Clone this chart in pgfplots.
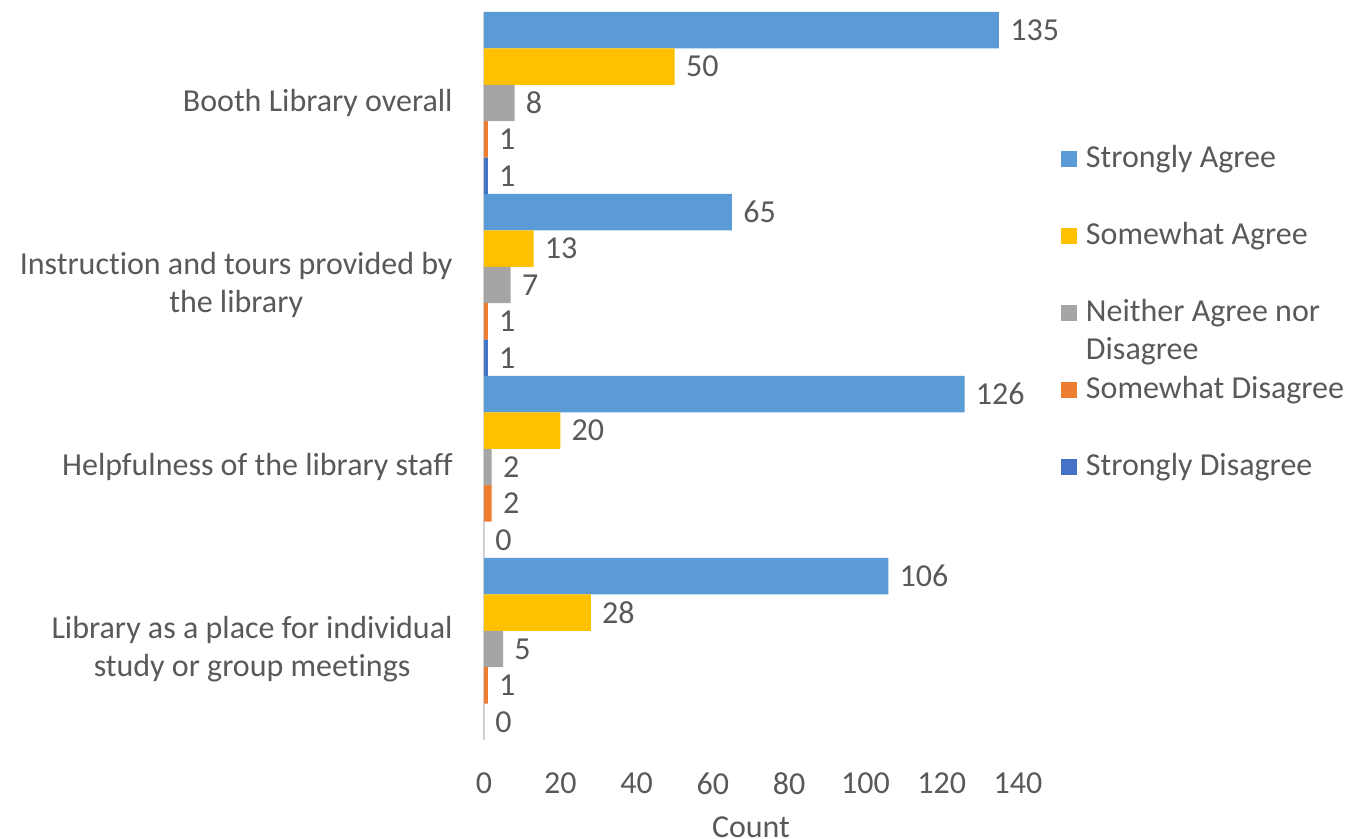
\documentclass[border=0pt]{standalone}
\usepackage{pgfplots}
\pgfplotsset{compat=1.18}
\usepackage{fontspec}
\setmainfont{Carlito}[Ligatures=CommonOff]
\definecolor{cSA}{HTML}{5B9BD5}
\definecolor{cSwA}{HTML}{FFC000}
\definecolor{cN}{HTML}{A5A5A5}
\definecolor{cSwD}{HTML}{ED7D31}
\definecolor{cSD}{HTML}{4472C4}
\definecolor{textgray}{HTML}{595959}
\definecolor{axisgray}{HTML}{D9D9D9}
\newcommand{\myfont}{\fontsize{16}{19.2}\selectfont}
\begin{document}
\begin{tikzpicture}
\useasboundingbox (-242pt,-49.5pt) rectangle (432.5pt,370pt);
\begin{axis}[
  at={(0pt,0pt)}, anchor=south west,
  xbar,
  scale only axis, width=267pt, height=364pt,
  xmin=0, xmax=140, ymin=-0.5, ymax=3.5,
  enlargelimits=false,
  bar width=0.2,
  axis line style={draw=none},
  major tick length=0pt,
  xtick={0,20,...,140},
  ytick={0,1,2,3},
  yticklabels={{Library as a place for individual\\study or group meetings},
               {Helpfulness of the library staff},
               {Instruction and tours provided by\\the library},
               {Booth Library overall}},
  extra x ticks={0}, extra x tick labels={},
  extra x tick style={grid=major, major grid style={draw=axisgray, line width=1pt}},
  /pgf/number format/assume math mode=true,
  tick label style={font=\myfont, text=textgray},
  yticklabel style={align=center, inner sep=0pt, xshift=-15.5pt},
  xticklabel style={inner sep=0pt, yshift=-16pt},
  xlabel={Count},
  xlabel style={at={(axis description cs:0.5,0)}, anchor=north, inner sep=0pt, yshift=-38pt, font=\myfont, text=textgray},
  nodes near coords,
  nodes near coords style={anchor=west, inner sep=0pt, xshift=5.5pt, font=\myfont, text=textgray},
  legend image code/.code={\fill[#1] (0pt,0pt) rectangle (8pt,8pt);},
  legend style={at={(1.0805,0.8200)}, anchor=north west, draw=none, fill=none,
    inner sep=0pt, outer sep=0pt, row sep=22.5pt, column sep=4.5pt,
    font=\myfont, text=textgray,
    cells={anchor=base west},
    nodes={inner sep=0pt, text height=12pt, text depth=4pt, anchor=base west}},
]
\addplot[fill=cSA, draw=none, bar shift=0.4] coordinates {(135,3) (65,2) (126,1) (106,0)};
\addlegendentry{Strongly Agree}
\addplot[fill=cSwA, draw=none, bar shift=0.2] coordinates {(50,3) (13,2) (20,1) (28,0)};
\addlegendentry{Somewhat Agree}
\addplot[fill=cN, draw=none, bar shift=0] coordinates {(8,3) (7,2) (2,1) (5,0)};
\addlegendentry{\begin{tabular}[t]{@{}l@{}}Neither Agree nor\\Disagree\end{tabular}}
\addplot[fill=cSwD, draw=none, bar shift=-0.2] coordinates {(1,3) (1,2) (2,1) (1,0)};
\addlegendentry{Somewhat Disagree}
\addplot[fill=cSD, draw=none, bar shift=-0.4] coordinates {(1,3) (1,2) (0,1) (0,0)};
\addlegendentry{Strongly Disagree}
\end{axis}
\end{tikzpicture}
\end{document}
